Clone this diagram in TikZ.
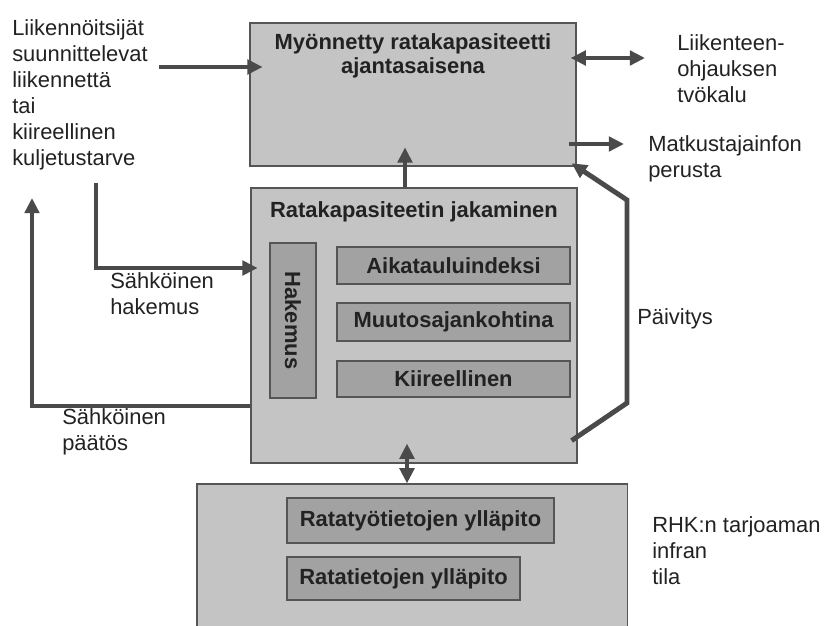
\documentclass[tikz,border=0pt]{standalone}
\usepackage{fontspec}
\setmainfont{Liberation Sans}
\usetikzlibrary{arrows.meta}
\definecolor{boxgray}{HTML}{C4C4C4}
\definecolor{ingray}{HTML}{A2A2A2}
\definecolor{boxline}{HTML}{555555}
\definecolor{arrowgray}{HTML}{4A4A4A}
\definecolor{inktext}{HTML}{222222}

\begin{document}
\begin{tikzpicture}[x=0.025cm,y=-0.025cm,
    box/.style={draw=boxline,fill=boxgray,line width=0.8pt,inner sep=0pt},
    inbox/.style={draw=boxline,fill=ingray,line width=0.8pt,inner sep=0pt,text=inktext,
        font=\bfseries\fontsize{15.6}{17}\selectfont},
    title/.style={anchor=north,inner sep=0pt,align=center,text=inktext,
        font=\bfseries\fontsize{15.6}{17}\selectfont},
    lbl/.style={anchor=north west,inner sep=0pt,align=left,text=inktext,
        font=\fontsize{15.6}{18.6}\selectfont},
    flow/.style={draw=arrowgray,line width=3.5pt,-{Triangle[length=0.38cm,width=0.36cm]}},
    dflow/.style={draw=arrowgray,line width=3.5pt,
        {Triangle[length=0.38cm,width=0.36cm]}-{Triangle[length=0.38cm,width=0.36cm]}}]
    \useasboundingbox (0,0) rectangle (827,625);
    \node[box,minimum width=8.15cm,minimum height=3.575cm] (granted) at (413,94.5) {};
    \node[title] (grantedtitle) at (413,33) {Myönnetty ratakapasiteetti\\ajantasaisena};
    \node[box,minimum width=8.15cm,minimum height=6.875cm] (alloc) at (414,325.5) {};
    \node[title] (alloctitle) at (414,201) {Ratakapasiteetin jakaminen};
    \node[inbox,rotate=-90,minimum width=3.875cm,minimum height=1.15cm] (appl) at (293,320.5) {Hakemus};
    \node[inbox,minimum width=5.825cm,minimum height=0.925cm] (timetable) at (453.5,265.5) {Aikatauluindeksi};
    \node[inbox,minimum width=5.825cm,minimum height=0.95cm] (change) at (453.5,322) {Muutosajankohtina};
    \node[inbox,minimum width=5.825cm,minimum height=0.9cm] (urgent) at (453.5,379) {Kiireellinen};
    \node[box,minimum width=10.75cm,minimum height=3.9cm] (infra) at (412,562) {};
    \node[inbox,minimum width=6.675cm,minimum height=1.125cm] (works) at (420.5,520.5) {Ratatyötietojen ylläpito};
    \node[inbox,minimum width=5.825cm,minimum height=1.075cm] (track) at (403.5,578.5) {Ratatietojen ylläpito};

    \node[lbl] (operators) at (12,19) {Liikennöitsijät\\suunnittelevat\\liikennettä\\tai\\kiireellinen\\kuljetustarve};
    \node[lbl] (tctool) at (677,34) {Liikenteen-\\ohjauksen\\tvökalu};
    \node[lbl] (paxinfo) at (648,135) {Matkustajainfon\\perusta};
    \node[lbl] (applabel) at (110,272) {Sähköinen\\hakemus};
    \node[lbl] (declabel) at (62,408) {Sähköinen\\päätös};
    \node[lbl] (updlabel) at (637,308) {Päivitys};
    \node[lbl] (infralabel) at (652,516) {RHK:n tarjoaman\\infran\\tila};

    \coordinate (opsout) at (159,67);
    \coordinate (tcend) at (645,58);
    \coordinate (paxend) at (624,144);
    \coordinate (upx) at (405,0);
    \coordinate (reqstart) at (96,183);
    \coordinate (reqrow) at (0,268);
    \coordinate (decbend) at (32,406);
    \coordinate (decend) at (32,198);
    \coordinate (updbend1) at (627,403);
    \coordinate (updbend2) at (627,200);
    \coordinate (linkx) at (407,0);

    \draw[flow,shorten >=-0.33cm] (opsout) -- (opsout -| granted.west);
    \draw[dflow,shorten <=-0.15cm] (granted.east |- tcend) -- (tcend);
    \draw[flow,shorten <=-0.2cm] (granted.east |- paxend) -- (paxend);
    \draw[flow,shorten >=-0.48cm] (alloc.north -| upx) -- (granted.south -| upx);
    \draw[flow,shorten >=-0.18cm] (reqstart) |- (alloc.west |- reqrow);
    \draw[flow] (alloc.west |- decbend) -- (decbend) -- (decend);
    \draw[flow,line join=miter,shorten >=-0.15cm] ([shift={(-6,-23)}]alloc.south east) -- (updbend1) -- (updbend2) -- (granted.south east);
    \draw[dflow,shorten >=-0.5cm] (infra.north -| linkx) -- (alloc.south -| linkx);
\end{tikzpicture}
\end{document}
